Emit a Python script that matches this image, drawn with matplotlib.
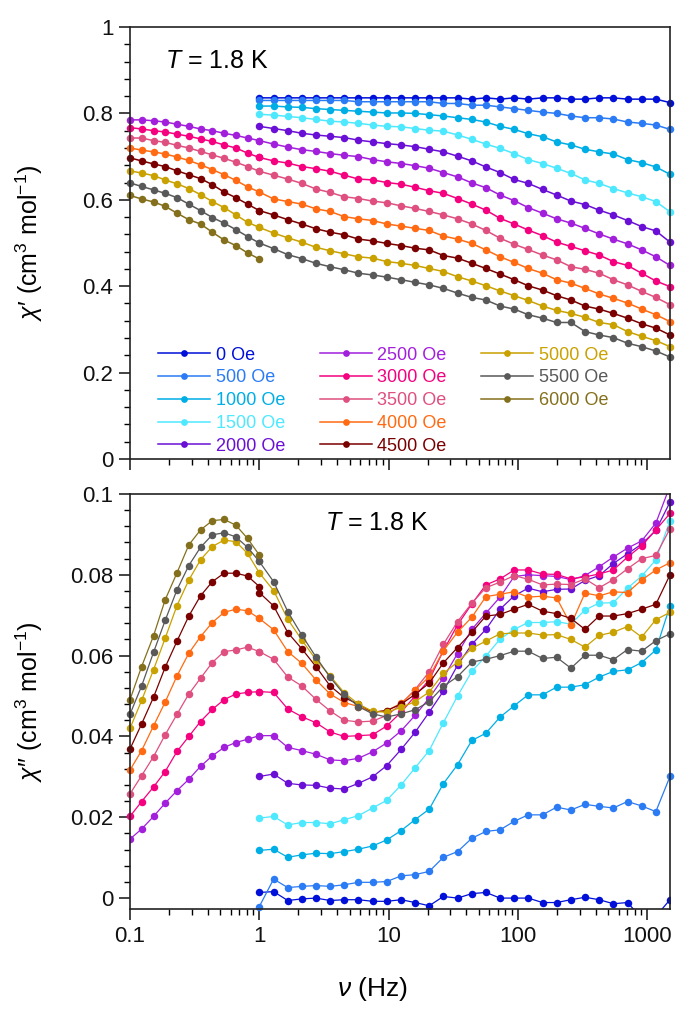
import matplotlib
matplotlib.use("Agg")
import matplotlib.pyplot as plt
from matplotlib.lines import Line2D
from matplotlib.ticker import MultipleLocator, LogLocator, FuncFormatter, NullFormatter

plt.rcParams['font.family'] = ['Liberation Sans', 'DejaVu Sans']
plt.rcParams['mathtext.fontset'] = 'custom'
plt.rcParams['mathtext.rm'] = 'Liberation Sans'
plt.rcParams['mathtext.it'] = 'Liberation Sans:italic'
plt.rcParams['mathtext.bf'] = 'Liberation Sans:bold'

# ---------------------------------------------------------------- data
# AC frequencies (Hz): low-frequency sweep and high-frequency sweep
freq_lo = [0.1, 0.123, 0.152, 0.187, 0.231, 0.285, 0.351, 0.433, 0.534, 0.658, 0.811, 1.0]
freq_hi = [1.0, 1.29, 1.66, 2.13, 2.74, 3.53, 4.54, 5.84, 7.52, 9.68, 12.5, 16.0, 20.6, 26.5,
           34.1, 44.0, 56.5, 72.8, 93.6, 120.0, 155.0, 199.0, 257.0, 330.0, 425.0, 547.0,
           704.0, 906.0, 1166.0, 1500.0]

fields = ['0 Oe', '500 Oe', '1000 Oe', '1500 Oe', '2000 Oe', '2500 Oe', '3000 Oe',
          '3500 Oe', '4000 Oe', '4500 Oe', '5000 Oe', '5500 Oe', '6000 Oe']
colors = ['#0010d8', '#2b7bf5', '#00aee6', '#4ee8ff', '#6a0fd6', '#a21fdc', '#f5007f',
          '#df4f7f', '#ff6a12', '#7a0000', '#c9a100', '#595959', '#84701c']

# chi' (cm3 mol-1), low-frequency sweep
re_lo_2500 = [0.785, 0.785, 0.783, 0.780, 0.775, 0.770, 0.764, 0.760, 0.754, 0.749, 0.743, 0.737]
re_lo_3000 = [0.767, 0.764, 0.760, 0.757, 0.752, 0.747, 0.741, 0.735, 0.727, 0.720, 0.708, 0.698]
re_lo_3500 = [0.743, 0.743, 0.737, 0.733, 0.726, 0.720, 0.712, 0.704, 0.696, 0.687, 0.677, 0.666]
re_lo_4000 = [0.720, 0.715, 0.711, 0.706, 0.699, 0.691, 0.681, 0.670, 0.658, 0.645, 0.630, 0.618]
re_lo_4500 = [0.697, 0.690, 0.683, 0.677, 0.667, 0.658, 0.649, 0.635, 0.618, 0.605, 0.590, 0.575]
re_lo_5000 = [0.667, 0.662, 0.656, 0.646, 0.637, 0.626, 0.612, 0.596, 0.582, 0.565, 0.548, 0.536]
re_lo_5500 = [0.639, 0.631, 0.623, 0.615, 0.605, 0.590, 0.575, 0.559, 0.546, 0.531, 0.515, 0.500]
re_lo_6000 = [0.610, 0.602, 0.595, 0.585, 0.569, 0.554, 0.544, 0.525, 0.507, 0.494, 0.477, 0.463]

# chi' (cm3 mol-1), high-frequency sweep
re_hi_0 = [0.836, 0.836, 0.836, 0.836, 0.836, 0.836, 0.836, 0.836, 0.836, 0.836, 0.836, 0.836,
           0.836, 0.836, 0.836, 0.833, 0.836, 0.833, 0.836, 0.833, 0.836, 0.836, 0.833, 0.833,
           0.836, 0.836, 0.833, 0.833, 0.833, 0.825]
re_hi_500 = [0.830, 0.830, 0.830, 0.830, 0.830, 0.830, 0.830, 0.827, 0.827, 0.827, 0.827, 0.827,
             0.827, 0.823, 0.823, 0.819, 0.819, 0.815, 0.811, 0.807, 0.803, 0.800, 0.794, 0.790,
             0.790, 0.787, 0.780, 0.777, 0.773, 0.763]
re_hi_1000 = [0.817, 0.817, 0.815, 0.814, 0.811, 0.809, 0.807, 0.805, 0.803, 0.801, 0.801, 0.800,
              0.797, 0.794, 0.790, 0.786, 0.780, 0.770, 0.763, 0.753, 0.746, 0.734, 0.727, 0.717,
              0.711, 0.706, 0.693, 0.686, 0.676, 0.659]
re_hi_1500 = [0.798, 0.796, 0.793, 0.790, 0.786, 0.782, 0.780, 0.777, 0.773, 0.770, 0.769, 0.765,
              0.761, 0.759, 0.750, 0.740, 0.729, 0.719, 0.707, 0.693, 0.684, 0.673, 0.661, 0.646,
              0.638, 0.626, 0.616, 0.607, 0.596, 0.572]
re_hi_2000 = [0.770, 0.765, 0.760, 0.754, 0.750, 0.747, 0.744, 0.738, 0.734, 0.730, 0.727, 0.723,
              0.717, 0.711, 0.701, 0.690, 0.676, 0.663, 0.647, 0.638, 0.624, 0.611, 0.597, 0.589,
              0.576, 0.565, 0.552, 0.538, 0.528, 0.502]
re_hi_2500 = [0.737, 0.729, 0.722, 0.716, 0.712, 0.707, 0.703, 0.700, 0.693, 0.688, 0.684, 0.679,
              0.673, 0.663, 0.653, 0.639, 0.628, 0.611, 0.598, 0.582, 0.569, 0.556, 0.546, 0.534,
              0.521, 0.509, 0.498, 0.484, 0.468, 0.448]
re_hi_3000 = [0.698, 0.690, 0.685, 0.677, 0.672, 0.666, 0.657, 0.648, 0.646, 0.640, 0.636, 0.629,
              0.621, 0.615, 0.603, 0.590, 0.576, 0.557, 0.544, 0.530, 0.517, 0.502, 0.492, 0.482,
              0.472, 0.457, 0.448, 0.430, 0.412, 0.399]
re_hi_3500 = [0.666, 0.657, 0.648, 0.638, 0.625, 0.617, 0.607, 0.603, 0.597, 0.593, 0.586, 0.580,
              0.573, 0.565, 0.556, 0.544, 0.529, 0.511, 0.497, 0.485, 0.472, 0.461, 0.445, 0.439,
              0.430, 0.415, 0.403, 0.388, 0.374, 0.357]
re_hi_4000 = [0.618, 0.602, 0.596, 0.590, 0.579, 0.573, 0.561, 0.556, 0.552, 0.544, 0.539, 0.534,
              0.529, 0.516, 0.509, 0.499, 0.484, 0.468, 0.455, 0.441, 0.430, 0.415, 0.407, 0.395,
              0.382, 0.372, 0.361, 0.347, 0.334, 0.318]
re_hi_4500 = [0.575, 0.565, 0.554, 0.544, 0.533, 0.525, 0.519, 0.509, 0.505, 0.499, 0.494, 0.488,
              0.484, 0.471, 0.465, 0.453, 0.441, 0.428, 0.415, 0.401, 0.391, 0.378, 0.368, 0.354,
              0.347, 0.337, 0.326, 0.313, 0.303, 0.287]
re_hi_5000 = [0.536, 0.523, 0.512, 0.502, 0.490, 0.482, 0.475, 0.468, 0.465, 0.457, 0.453, 0.448,
              0.441, 0.434, 0.422, 0.412, 0.401, 0.389, 0.378, 0.367, 0.354, 0.344, 0.337, 0.328,
              0.316, 0.311, 0.295, 0.284, 0.274, 0.260]
re_hi_5500 = [0.500, 0.487, 0.473, 0.464, 0.453, 0.445, 0.438, 0.430, 0.426, 0.421, 0.415, 0.409,
              0.403, 0.395, 0.384, 0.374, 0.368, 0.354, 0.347, 0.334, 0.326, 0.316, 0.316, 0.295,
              0.287, 0.281, 0.268, 0.260, 0.250, 0.236]

# chi'' (cm3 mol-1), low-frequency sweep
im_lo_2500 = [0.0146, 0.0171, 0.0202, 0.0235, 0.0266, 0.0294, 0.0326, 0.0352, 0.0373, 0.0385, 0.0393, 0.0402]
im_lo_3000 = [0.0202, 0.0239, 0.0275, 0.0313, 0.0363, 0.0400, 0.0437, 0.0467, 0.0491, 0.0505, 0.0509, 0.0511]
im_lo_3500 = [0.0258, 0.0303, 0.0350, 0.0404, 0.0455, 0.0505, 0.0544, 0.0583, 0.0610, 0.0614, 0.0621, 0.0610]
im_lo_4000 = [0.0317, 0.0365, 0.0426, 0.0485, 0.0550, 0.0606, 0.0647, 0.0682, 0.0707, 0.0715, 0.0711, 0.0692]
im_lo_4500 = [0.0369, 0.0431, 0.0497, 0.0571, 0.0636, 0.0698, 0.0748, 0.0783, 0.0804, 0.0804, 0.0797, 0.0771]
im_lo_5000 = [0.0420, 0.0489, 0.0565, 0.0643, 0.0724, 0.0787, 0.0837, 0.0870, 0.0886, 0.0882, 0.0853, 0.0805]
im_lo_5500 = [0.0455, 0.0525, 0.0608, 0.0687, 0.0763, 0.0823, 0.0868, 0.0899, 0.0904, 0.0894, 0.0868, 0.0833]
im_lo_6000 = [0.0491, 0.0573, 0.0649, 0.0738, 0.0805, 0.0874, 0.0911, 0.0934, 0.0937, 0.0923, 0.0890, 0.0849]

# chi'' (cm3 mol-1), high-frequency sweep
im_hi_0 = [0.0014, 0.0016, -0.0006, -0.0002, 0.0000, -0.0006, -0.0004, -0.0004, -0.0008, -0.0008,
           -0.0004, -0.0011, -0.0019, 0.0004, 0.0000, 0.0011, 0.0014, 0.0000, 0.0000, 0.0000,
           -0.0011, -0.0011, -0.0004, 0.0002, -0.0004, -0.0014, -0.0011, -0.0050, -0.0045, -0.0004]
im_hi_500 = [-0.0021, 0.0047, 0.0026, 0.0029, 0.0031, 0.0029, 0.0033, 0.0039, 0.0039, 0.0041,
             0.0055, 0.0058, 0.0066, 0.0101, 0.0115, 0.0148, 0.0165, 0.0169, 0.0190, 0.0206,
             0.0206, 0.0225, 0.0218, 0.0232, 0.0227, 0.0223, 0.0239, 0.0228, 0.0214, 0.0301]
im_hi_1000 = [0.0118, 0.0121, 0.0101, 0.0107, 0.0111, 0.0110, 0.0115, 0.0121, 0.0129, 0.0144,
              0.0167, 0.0194, 0.0220, 0.0283, 0.0330, 0.0390, 0.0408, 0.0448, 0.0476, 0.0503,
              0.0503, 0.0522, 0.0522, 0.0528, 0.0547, 0.0561, 0.0565, 0.0583, 0.0614, 0.0723]
im_hi_1500 = [0.0198, 0.0202, 0.0181, 0.0187, 0.0187, 0.0184, 0.0194, 0.0204, 0.0223, 0.0242,
              0.0280, 0.0322, 0.0365, 0.0434, 0.0500, 0.0561, 0.0599, 0.0641, 0.0665, 0.0682,
              0.0682, 0.0684, 0.0678, 0.0713, 0.0730, 0.0731, 0.0767, 0.0797, 0.0837, 0.0934]
im_hi_2000 = [0.0301, 0.0307, 0.0284, 0.0280, 0.0279, 0.0272, 0.0270, 0.0284, 0.0300, 0.0328,
              0.0368, 0.0410, 0.0460, 0.0512, 0.0576, 0.0628, 0.0665, 0.0715, 0.0748, 0.0767,
              0.0758, 0.0764, 0.0765, 0.0786, 0.0798, 0.0828, 0.0852, 0.0876, 0.0910, 0.0980]
im_hi_2500 = [0.0402, 0.0402, 0.0373, 0.0365, 0.0356, 0.0342, 0.0340, 0.0346, 0.0362, 0.0384,
              0.0414, 0.0452, 0.0495, 0.0545, 0.0605, 0.0665, 0.0705, 0.0745, 0.0796, 0.0800,
              0.0798, 0.0796, 0.0788, 0.0798, 0.0820, 0.0844, 0.0866, 0.0884, 0.0928, 0.1020]
im_hi_3000 = [0.0511, 0.0509, 0.0468, 0.0449, 0.0434, 0.0411, 0.0400, 0.0402, 0.0404, 0.0426,
              0.0460, 0.0500, 0.0540, 0.0612, 0.0676, 0.0728, 0.0775, 0.0790, 0.0812, 0.0812,
              0.0802, 0.0801, 0.0790, 0.0795, 0.0802, 0.0812, 0.0844, 0.0872, 0.0911, 0.0952]
im_hi_3500 = [0.0610, 0.0591, 0.0547, 0.0525, 0.0492, 0.0463, 0.0440, 0.0436, 0.0438, 0.0452,
              0.0480, 0.0516, 0.0560, 0.0628, 0.0684, 0.0730, 0.0768, 0.0782, 0.0798, 0.0789,
              0.0775, 0.0777, 0.0776, 0.0790, 0.0768, 0.0788, 0.0815, 0.0840, 0.0848, 0.0914]
im_hi_4000 = [0.0692, 0.0664, 0.0610, 0.0581, 0.0540, 0.0505, 0.0484, 0.0474, 0.0460, 0.0464,
              0.0482, 0.0514, 0.0548, 0.0612, 0.0658, 0.0695, 0.0746, 0.0752, 0.0758, 0.0745,
              0.0747, 0.0743, 0.0676, 0.0755, 0.0748, 0.0758, 0.0756, 0.0787, 0.0812, 0.0830]
im_hi_4500 = [0.0756, 0.0723, 0.0657, 0.0617, 0.0573, 0.0525, 0.0496, 0.0480, 0.0460, 0.0464,
              0.0480, 0.0504, 0.0532, 0.0582, 0.0620, 0.0658, 0.0698, 0.0702, 0.0715, 0.0727,
              0.0710, 0.0704, 0.0692, 0.0665, 0.0698, 0.0698, 0.0704, 0.0715, 0.0727, 0.0800]
im_hi_5000 = [0.0805, 0.0761, 0.0690, 0.0639, 0.0590, 0.0550, 0.0508, 0.0480, 0.0462, 0.0460,
              0.0472, 0.0486, 0.0510, 0.0556, 0.0584, 0.0618, 0.0636, 0.0654, 0.0656, 0.0656,
              0.0651, 0.0652, 0.0640, 0.0621, 0.0650, 0.0658, 0.0672, 0.0646, 0.0689, 0.0707]
im_hi_5500 = [0.0833, 0.0783, 0.0709, 0.0651, 0.0597, 0.0546, 0.0504, 0.0474, 0.0456, 0.0448,
              0.0456, 0.0466, 0.0486, 0.0524, 0.0548, 0.0584, 0.0591, 0.0600, 0.0611, 0.0611,
              0.0593, 0.0596, 0.0569, 0.0601, 0.0601, 0.0590, 0.0615, 0.0611, 0.0637, 0.0654]

# one row per applied field: (chi' low, chi' high, chi'' low, chi'' high)
series = [
    (None, re_hi_0, None, im_hi_0),
    (None, re_hi_500, None, im_hi_500),
    (None, re_hi_1000, None, im_hi_1000),
    (None, re_hi_1500, None, im_hi_1500),
    (None, re_hi_2000, None, im_hi_2000),
    (re_lo_2500, re_hi_2500, im_lo_2500, im_hi_2500),
    (re_lo_3000, re_hi_3000, im_lo_3000, im_hi_3000),
    (re_lo_3500, re_hi_3500, im_lo_3500, im_hi_3500),
    (re_lo_4000, re_hi_4000, im_lo_4000, im_hi_4000),
    (re_lo_4500, re_hi_4500, im_lo_4500, im_hi_4500),
    (re_lo_5000, re_hi_5000, im_lo_5000, im_hi_5000),
    (re_lo_5500, re_hi_5500, im_lo_5500, im_hi_5500),
    (re_lo_6000, None, im_lo_6000, None),
]


def join(lo, hi):
    x, y = [], []
    if lo is not None:
        x += freq_lo
        y += lo
    if hi is not None:
        x += freq_hi
        y += hi
    return x, y


# ---------------------------------------------------------------- figure
W, H = 679, 1011
fig = plt.figure(figsize=(W / 100, H / 100), dpi=100)
ax1 = fig.add_axes([130 / W, 1 - 459 / H, 540 / W, 432 / H])
ax2 = fig.add_axes([130 / W, 1 - 909 / H, 540 / W, 415 / H])

handles = []
for (rlo, rhi, ilo, ihi), lab, col in zip(series, fields, colors):
    x, y = join(rlo, rhi)
    ln, = ax1.plot(x, y, '-o', color=col, lw=1.1, ms=5.4, mew=0, label=lab, clip_on=False)
    handles.append(ln)
    x, y = join(ilo, ihi)
    clip = lab in ('0 Oe', '2500 Oe')
    ax2.plot(x, y, '-o', color=col, lw=0.9, ms=5.4, mew=0, clip_on=clip)

fmt = FuncFormatter(lambda v, p: '%g' % v)
for ax in (ax1, ax2):
    ax.set_xscale('log')
    ax.set_xlim(0.1, 1500)
    ax.xaxis.set_major_locator(LogLocator(base=10, numticks=10))
    ax.xaxis.set_minor_locator(LogLocator(base=10, subs=range(2, 10), numticks=20))
    ax.xaxis.set_minor_formatter(NullFormatter())
    ax.tick_params(which='major', direction='out', length=8, width=1.1, labelsize=16,
                   pad=4, colors='#111111')
    ax.tick_params(which='minor', direction='out', length=4.5, width=1.0)
    ax.tick_params(top=False, right=False, which='both')
    for s in ax.spines.values():
        s.set_linewidth(1.2)
        s.set_color('#222222')
    ax.yaxis.set_major_formatter(fmt)

ax1.set_ylim(0, 1)
ax1.yaxis.set_major_locator(MultipleLocator(0.2))
ax1.yaxis.set_minor_locator(MultipleLocator(0.04))
ax1.xaxis.set_major_formatter(NullFormatter())

ax2.set_ylim(-0.0027, 0.1)
ax2.yaxis.set_major_locator(MultipleLocator(0.02))
ax2.yaxis.set_minor_locator(MultipleLocator(0.004))
ax2.xaxis.set_major_formatter(fmt)

ax1.set_ylabel("$\\chi$\u2032 (cm$^3$ mol$^{-1}$)", fontsize=18)
ax2.set_ylabel("$\\chi$\u2033 (cm$^3$ mol$^{-1}$)", fontsize=18)
ax1.yaxis.set_label_coords(-0.157, 0.5)
ax2.yaxis.set_label_coords(-0.157, 0.5)
ax2.set_xlabel(r"$\nu$ (Hz)", fontsize=19)
ax2.xaxis.set_label_coords((372 - 130) / 540, -0.158)

ax1.text((165 - 130) / 540, (459 - 61) / 432, r"$T$ = 1.8 K", transform=ax1.transAxes,
         fontsize=18, ha='left', va='center')
ax2.text((325 - 130) / 540, (909 - 523) / 415, r"$T$ = 1.8 K", transform=ax2.transAxes,
         fontsize=18, ha='left', va='center')

# two empty slots so the columns hold 5, 5 and 3 entries
blank = [Line2D([], [], alpha=0), Line2D([], [], alpha=0)]
ax1.legend(handles + blank, fields + ['', ''], ncol=3, loc='upper left',
           bbox_to_anchor=(0.052, 0.26), frameon=False,
           fontsize=13, handlelength=2.9, handletextpad=0.3, columnspacing=1.9,
           labelspacing=0.32, borderpad=0, borderaxespad=0, labelcolor='linecolor',
           markerscale=0.9)

fig.savefig('out.png', dpi=100)
